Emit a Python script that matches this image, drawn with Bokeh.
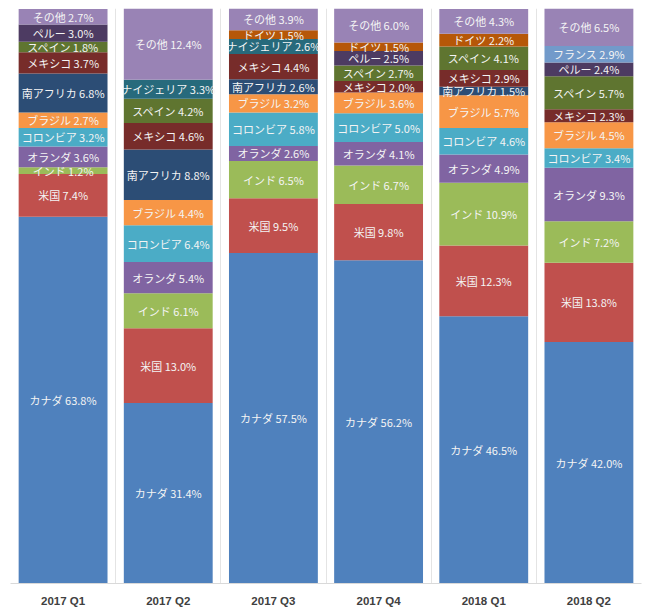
from bokeh.plotting import figure
from bokeh.models import ColumnDataSource, FixedTicker, Range1d
from bokeh.core.properties import value
from bokeh.embed import file_html
from bokeh.resources import INLINE

quarters = ["2017 Q1", "2017 Q2", "2017 Q3", "2017 Q4", "2018 Q1", "2018 Q2"]
countries = ["カナダ", "米国", "インド", "オランダ", "コロンビア", "ブラジル", "南アフリカ",
             "メキシコ", "スペイン", "ペルー", "ナイジェリア", "ドイツ", "フランス", "その他"]
canada = [63.8, 31.4, 57.5, 56.2, 46.5, 42.0]
usa = [7.4, 13.0, 9.5, 9.8, 12.3, 13.8]
india = [1.2, 6.1, 6.5, 6.7, 10.9, 7.2]
netherlands = [3.6, 5.4, 2.6, 4.1, 4.9, 9.3]
colombia = [3.2, 6.4, 5.8, 5.0, 4.6, 3.4]
brazil = [2.7, 4.4, 3.2, 3.6, 5.7, 4.5]
south_africa = [6.8, 8.8, 2.6, 0, 1.5, 0]
mexico = [3.7, 4.6, 4.4, 2.0, 2.9, 2.3]
spain = [1.8, 4.2, 0, 2.7, 4.1, 5.7]
peru = [3.0, 0, 0, 2.5, 0, 2.4]
nigeria = [0, 3.3, 2.6, 0, 0, 0]
germany = [0, 0, 1.5, 1.5, 2.2, 0]
france = [0, 0, 0, 0, 0, 2.9]
other = [2.7, 12.4, 3.9, 6.0, 4.3, 6.5]
series = [canada, usa, india, netherlands, colombia, brazil, south_africa,
          mexico, spain, peru, nigeria, germany, france, other]
colors = ["#4F81BD", "#C0504D", "#9BBB59", "#8064A2", "#4BACC6", "#F79646", "#2C4D75",
          "#772C2A", "#5F7530", "#4D3B62", "#276A7C", "#B65708", "#729ACA", "#9983B5"]

W, H = 650, 616
p = figure(width=W, height=H, output_backend="svg", toolbar_location=None,
           x_range=Range1d(-0.5, 5.5), y_range=Range1d(0, 100),
           min_border_left=10, min_border_right=9, min_border_top=8, min_border_bottom=33)
p.outline_line_color = None
p.background_fill_color = "white"
p.border_fill_color = "white"

xs = list(range(len(quarters)))
bottom = [0.0] * len(quarters)
lx, ly, lt = [], [], []
for name, vals, col in zip(countries, series, colors):
    tops = [b + v for b, v in zip(bottom, vals)]
    src = ColumnDataSource(dict(x=xs, bottom=bottom, top=tops))
    p.vbar(x="x", bottom="bottom", top="top", width=0.845, source=src,
           fill_color=col, line_color=None)
    for i, v in enumerate(vals):
        if v > 0:
            lx.append(xs[i])
            ly.append(bottom[i] + v / 2)
            lt.append(f"{name} {v:.1f}%")
    bottom = tops

p.text(x=lx, y=ly, text=lt, text_font=value("Noto Sans CJK JP"), text_font_size="11px",
       text_color="#F4F4F4", text_align="center", text_baseline="middle")

p.yaxis.visible = False
p.ygrid.grid_line_color = None
p.xgrid.ticker = FixedTicker(ticks=[x - 0.5 for x in xs] + [xs[-1] + 0.5])
p.xgrid.grid_line_color = "#E4E4E4"
p.xaxis.ticker = FixedTicker(ticks=xs)
p.xaxis.major_label_overrides = {x: q for x, q in zip(xs, quarters)}
p.xaxis.axis_line_color = "#D9D9D9"
p.xaxis.major_tick_line_color = None
p.xaxis.minor_tick_line_color = None
p.xaxis.major_label_text_font = "Liberation Sans"
p.xaxis.major_label_text_font_style = "bold"
p.xaxis.major_label_text_font_size = "11.5px"
p.xaxis.major_label_text_color = "#404040"
p.xaxis.major_label_standoff = 5

open("out.html", "w").write(file_html(p, INLINE))
